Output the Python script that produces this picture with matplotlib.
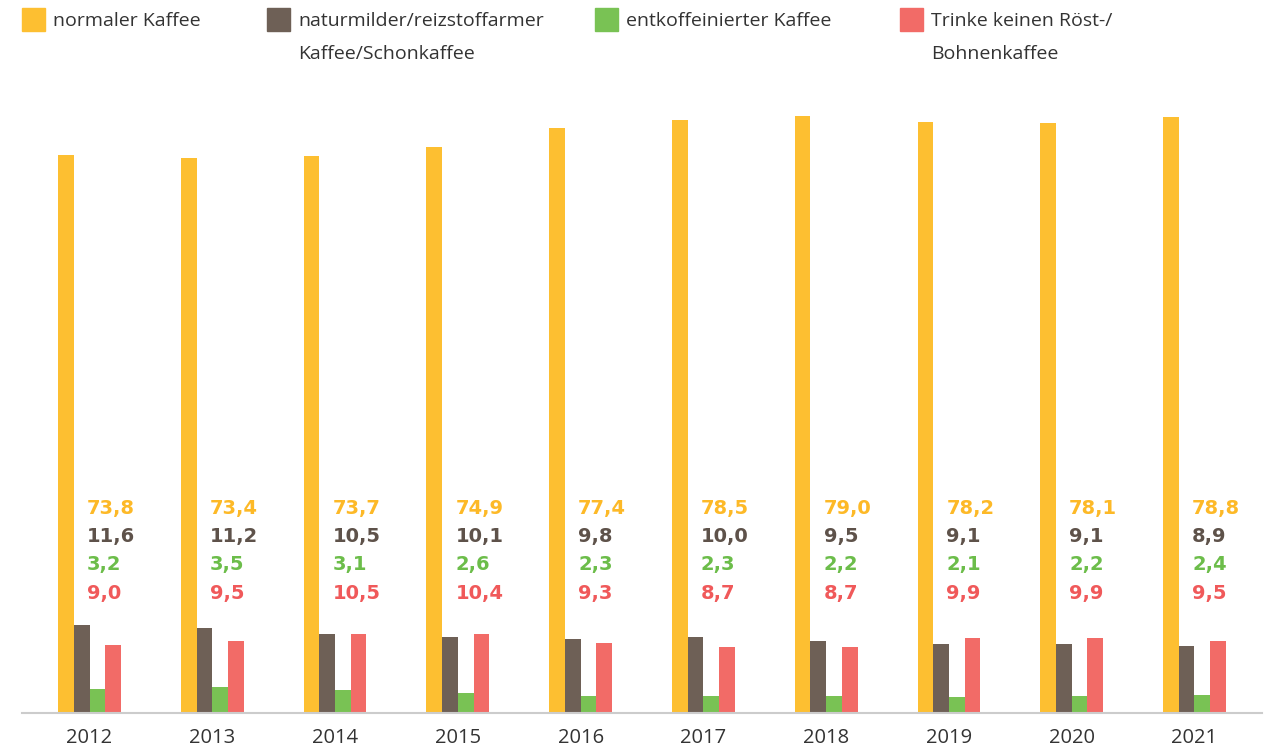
import matplotlib.pyplot as plt
import matplotlib.patches as mpatches
import numpy as np

plt.rcParams['font.family'] = ['Open Sans', 'DejaVu Sans']

jahre = ['2012', '2013', '2014', '2015', '2016', '2017', '2018', '2019', '2020', '2021']
normal = [73.8, 73.4, 73.7, 74.9, 77.4, 78.5, 79.0, 78.2, 78.1, 78.8]
schonkaffee = [11.6, 11.2, 10.5, 10.1, 9.8, 10.0, 9.5, 9.1, 9.1, 8.9]
entkoffeiniert = [3.2, 3.5, 3.1, 2.6, 2.3, 2.3, 2.2, 2.1, 2.2, 2.4]
kein_kaffee = [9.0, 9.5, 10.5, 10.4, 9.3, 8.7, 8.7, 9.9, 9.9, 9.5]

namen = ['normaler Kaffee', 'naturmilder/reizstoffarmer\nKaffee/Schonkaffee',
         'entkoffeinierter Kaffee', 'Trinke keinen Röst-/\nBohnenkaffee']
farben = ['#FDBF31', '#6E6056', '#79C254', '#F26B67']
textfarben = ['#FDB927', '#5E524A', '#6CBD4A', '#F0595A']
reihen = [normal, schonkaffee, entkoffeiniert, kein_kaffee]

fig = plt.figure(figsize=(12.77, 7.5), dpi=100)
ax = fig.add_axes([22 / 1277, 1 - 713 / 750, 1240 / 1277, 633 / 750])

x = np.arange(len(jahre))
breite = 0.128
for i, (werte, farbe) in enumerate(zip(reihen, farben)):
    ax.bar(x + (i - 1.5) * breite, werte, breite, color=farbe, linewidth=0)

# Werte als Block neben den Säulen
zeilen_y = [27.1, 23.3, 19.6, 15.8]
for j in range(len(jahre)):
    for i, werte in enumerate(reihen):
        ax.text(x[j] - 0.02, zeilen_y[i], f'{werte[j]:.1f}'.replace('.', ','),
                color=textfarben[i], fontsize=14, fontweight='bold',
                family=['DejaVu Sans'], ha='left', va='center')

ax.set_xlim(-0.55, len(jahre) - 0.45)
ax.set_ylim(0, 633 / 7.56)
ax.set_xticks(x)
ax.set_xticklabels(jahre, fontsize=14.5, color='#333333')
ax.tick_params(axis='x', length=0, pad=11)
ax.set_yticks([])
for s in ['top', 'right', 'left']:
    ax.spines[s].set_visible(False)
ax.spines['bottom'].set_color('#CCCCCC')
ax.spines['bottom'].set_linewidth(1.5)

# Legende oben
leg_x = [22, 267, 595, 900]
for lx, name, farbe in zip(leg_x, namen, farben):
    fig.patches.append(mpatches.Rectangle((lx / 1277, 1 - 31 / 750), 23 / 1277, 23 / 750,
                                          transform=fig.transFigure, color=farbe))
    fig.text((lx + 31) / 1277, 1 - 12 / 750, name, fontsize=14, color='#333333',
             ha='left', va='top', linespacing=2.05)

fig.savefig('out.png', dpi=100)
